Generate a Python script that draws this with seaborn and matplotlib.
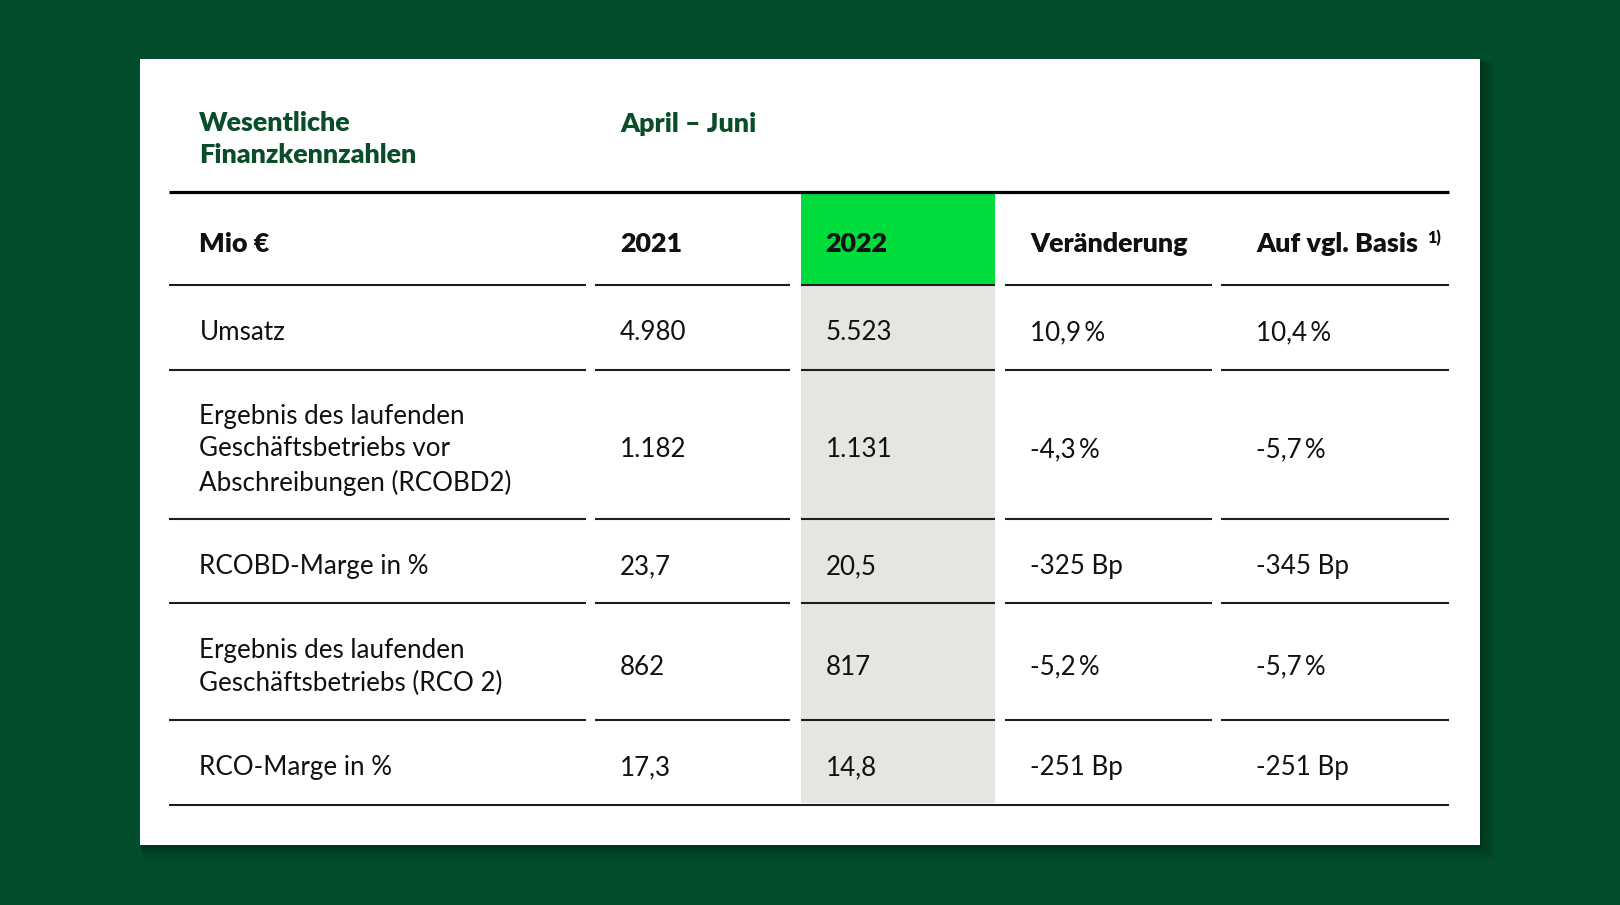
import matplotlib
matplotlib.use("Agg")
import matplotlib.pyplot as plt
import matplotlib.transforms as mtransforms
import seaborn as sns
from matplotlib.patches import Rectangle

# Daten der Tabelle
title_lines = ["Wesentliche", "Finanzkennzahlen"]
period = "April – Juni"
headers = ["Mio €", "2021", "2022", "Veränderung", "Auf vgl. Basis"]
footnote_mark = "1)"
row_labels = [
    "Umsatz",
    "Ergebnis des laufenden\nGeschäftsbetriebs vor\nAbschreibungen (RCOBD2)",
    "RCOBD-Marge in %",
    "Ergebnis des laufenden\nGeschäftsbetriebs (RCO 2)",
    "RCO-Marge in %",
]
values_2021 = ["4.980", "1.182", "23,7", "862", "17,3"]
values_2022 = ["5.523", "1.131", "20,5", "817", "14,8"]
change = ["10,9\u2009%", "-4,3\u2009%", "-325 Bp", "-5,2\u2009%", "-251 Bp"]
comparable = ["10,4\u2009%", "-5,7\u2009%", "-345 Bp", "-5,7\u2009%", "-251 Bp"]

# Farben
bg_green = "#024d2c"
title_green = "#0a4d29"
highlight = "#00dc3c"
grey_col = "#e6e5df"
line_col = "#1e1e1e"

sns.set_theme(style="white")
plt.rcParams["font.family"] = ["Lato", "DejaVu Sans"]

W, H = 1620, 905
fig = plt.figure(figsize=(W / 100, H / 100), dpi=100)
fig.set_facecolor(bg_green)
ax = fig.add_axes([0, 0, 1, 1])
ax.set_xlim(0, W)
ax.set_ylim(H, 0)
ax.axis("off")

# Karte mit Schatten
card = (139.5, 59, 1340, 786)
for i, a in enumerate([0.05, 0.05, 0.06, 0.07, 0.08]):
    off = 12 - i * 2.5
    ax.add_patch(Rectangle((card[0] + off * 0.3, card[1] + off * 0.3), card[2] + off, card[3] + off,
                           facecolor="black", edgecolor="none", alpha=a, zorder=1))
ax.add_patch(Rectangle(card[:2], card[2], card[3], facecolor="white", edgecolor="none", zorder=2))

# Spalten: Start/Ende der Linien und Textposition
col_spans = [(169.4, 585.8), (595.0, 790.4), (800.7, 995.0), (1005.3, 1212.0), (1221.2, 1448.5)]
text_x = [199.4, 620.0, 825.5, 1030.0, 1256.4]

fs = 18.7
fs_bold = 19.4
line_h = 32.3
dy = 5.5  # optische Korrektur der vertikalen Zentrierung

# Titel
ax.text(text_x[0], 137.5 + dy - 4, "\n".join(title_lines), color=title_green, fontsize=fs_bold,
        fontweight="heavy", va="center", ha="left", linespacing=1.36, zorder=5)
ax.text(text_x[1], 122 + dy - 4, period, color=title_green, fontsize=fs_bold, fontweight="heavy",
        va="center", ha="left", zorder=5)

# Zeilengrenzen aus der Anzahl der Textzeilen
top = 192.2
header_h = 93.0
bounds = [top, top + header_h]
for lab in row_labels:
    n = lab.count("\n") + 1
    bounds.append(bounds[-1] + 53.0 + line_h * (n - 1) + 31.5)

# Hervorgehobene Spalte 2022
c0, c1 = col_spans[2]
ax.add_patch(Rectangle((c0, bounds[0] + 1.5), c1 - c0, header_h - 1.5, facecolor=highlight,
                       edgecolor="none", zorder=3))
ax.add_patch(Rectangle((c0, bounds[1]), c1 - c0, bounds[-1] - bounds[1] - 2, facecolor=grey_col,
                       edgecolor="none", zorder=3))

# Linien
ax.plot([col_spans[0][0], col_spans[-1][1]], [bounds[0], bounds[0]], color="black", lw=2.3, zorder=4,
        solid_capstyle="butt")
for y in bounds[1:-1]:
    for s, e in col_spans:
        ax.plot([s, e], [y, y], color=line_col, lw=1.5, zorder=4, solid_capstyle="butt")
ax.plot([col_spans[0][0], col_spans[-1][1]], [bounds[-1], bounds[-1]], color=line_col, lw=1.5, zorder=4,
        solid_capstyle="butt")

# Kopfzeile
hy = (bounds[0] + bounds[1]) / 2 + dy
for x, h in zip(text_x, headers):
    t = ax.text(x, hy, h, color="#111111", fontsize=fs_bold, fontweight="heavy", va="center",
                ha="left", zorder=5)
fig.canvas.draw()
bb = t.get_window_extent()
blend = mtransforms.blended_transform_factory(mtransforms.IdentityTransform(), ax.transData)
ax.text(bb.x1 + 9, hy - 6, footnote_mark, color="#111111", fontsize=fs * 0.62, fontweight="heavy",
        va="center", ha="left", transform=blend, zorder=5)

# Datenzeilen
columns = [row_labels, values_2021, values_2022, change, comparable]
for r in range(len(row_labels)):
    cy = (bounds[r + 1] + bounds[r + 2]) / 2 + dy
    for x, col in zip(text_x, columns):
        ax.text(x, cy, col[r], color="#111111", fontsize=fs, va="center", ha="left",
                linespacing=1.39, zorder=5)

fig.savefig("out.png", dpi=100, facecolor=bg_green)
